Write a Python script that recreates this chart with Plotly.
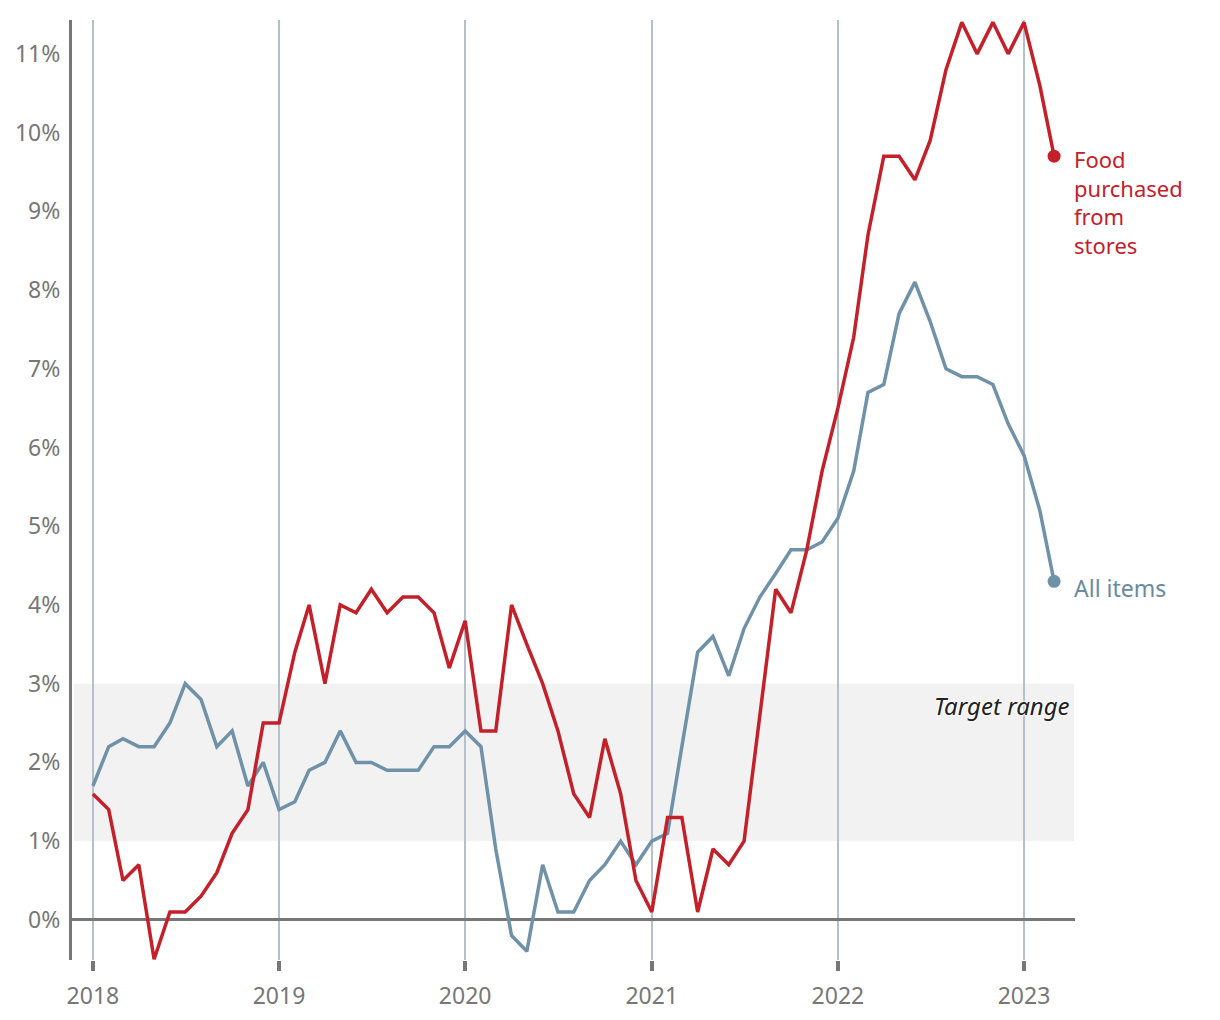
import pandas as pd
import plotly.graph_objects as go

months = pd.date_range("2018-01-01", periods=63, freq="MS")

food_from_stores = [1.6, 1.4, 0.5, 0.7, -0.5, 0.1, 0.1, 0.3, 0.6, 1.1, 1.4, 2.5,
                    2.5, 3.4, 4.0, 3.0, 4.0, 3.9, 4.2, 3.9, 4.1, 4.1, 3.9, 3.2,
                    3.8, 2.4, 2.4, 4.0, 3.5, 3.0, 2.4, 1.6, 1.3, 2.3, 1.6, 0.5,
                    0.1, 1.3, 1.3, 0.1, 0.9, 0.7, 1.0, 2.6, 4.2, 3.9, 4.7, 5.7,
                    6.5, 7.4, 8.7, 9.7, 9.7, 9.4, 9.9, 10.8, 11.4, 11.0, 11.4, 11.0,
                    11.4, 10.6, 9.7]

all_items = [1.7, 2.2, 2.3, 2.2, 2.2, 2.5, 3.0, 2.8, 2.2, 2.4, 1.7, 2.0,
             1.4, 1.5, 1.9, 2.0, 2.4, 2.0, 2.0, 1.9, 1.9, 1.9, 2.2, 2.2,
             2.4, 2.2, 0.9, -0.2, -0.4, 0.7, 0.1, 0.1, 0.5, 0.7, 1.0, 0.7,
             1.0, 1.1, 2.2, 3.4, 3.6, 3.1, 3.7, 4.1, 4.4, 4.7, 4.7, 4.8,
             5.1, 5.7, 6.7, 6.8, 7.7, 8.1, 7.6, 7.0, 6.9, 6.9, 6.8, 6.3,
             5.9, 5.2, 4.3]

year_ticks = ["2018-01-01", "2019-01-01", "2020-01-01", "2021-01-01", "2022-01-01", "2023-01-01"]
year_labels = ["2018", "2019", "2020", "2021", "2022", "2023"]
pct_ticks = list(range(0, 12))
pct_labels = [f"{v}%" for v in pct_ticks]
target_low, target_high = 1, 3
food_label_lines = ["Food", "purchased", "from", "stores"]

RED = "#c4202a"
BLUE = "#7092a8"
GREY = "#777777"
FONT = "Noto Sans"

fig = go.Figure()

fig.add_trace(go.Scatter(x=months, y=all_items, mode="lines",
                         line=dict(color=BLUE, width=3.5), name="All items"))
fig.add_trace(go.Scatter(x=months, y=food_from_stores, mode="lines",
                         line=dict(color=RED, width=3.5), name="Food purchased from stores"))
# end markers
fig.add_trace(go.Scatter(x=[months[-1]], y=[all_items[-1]], mode="markers",
                         marker=dict(color=BLUE, size=13), cliponaxis=False))
fig.add_trace(go.Scatter(x=[months[-1]], y=[food_from_stores[-1]], mode="markers",
                         marker=dict(color=RED, size=13), cliponaxis=False))

fig.add_shape(type="rect", xref="paper", x0=0.002, x1=0.999, yref="y",
              y0=target_low, y1=target_high, fillcolor="#f2f2f2",
              line=dict(width=0), layer="below")

fig.add_annotation(xref="paper", x=0.997, y=2.72, xanchor="right", yanchor="middle",
                   text="<i>Target range</i>", showarrow=False,
                   font=dict(family=FONT, size=24, color="#222222",
                             shadow="0px 0px 3px white, 0px 0px 3px white, 0px 0px 2px white"))

fig.add_annotation(x=months[-1], y=food_from_stores[-1], xanchor="left", yanchor="top",
                   xshift=18, yshift=14, align="left", showarrow=False,
                   text="<br>".join(food_label_lines),
                   font=dict(family=FONT, size=22, color=RED))
fig.add_annotation(x=months[-1], y=all_items[-1], xanchor="left", yanchor="middle",
                   xshift=18, yshift=-7, align="left", showarrow=False,
                   text="All items",
                   font=dict(family=FONT, size=23, color="#6a8aa0"))

fig.update_layout(
    width=1220, height=1020,
    margin=dict(l=72, r=145, t=20, b=60),
    plot_bgcolor="white", paper_bgcolor="white",
    showlegend=False,
    font=dict(family=FONT, color=GREY, size=22),
    xaxis=dict(
        type="date",
        range=["2017-11-21", "2023-04-11"],
        tickvals=year_ticks, ticktext=year_labels,
        showgrid=True, gridcolor="#b4c1ca", gridwidth=1.5,
        ticks="outside", ticklen=10, tickwidth=4, tickcolor=GREY,
        showline=False, zeroline=False, automargin=False,
        tickfont=dict(family=FONT, size=23, color=GREY),
        ticklabelstandoff=5,
    ),
    yaxis=dict(
        range=[-0.51, 11.43],
        tickvals=pct_ticks, ticktext=pct_labels,
        showgrid=False, automargin=False,
        zeroline=True, zerolinecolor=GREY, zerolinewidth=3,
        showline=True, linecolor=GREY, linewidth=3,
        ticks="", tickfont=dict(family=FONT, size=23, color=GREY),
        ticklabelstandoff=4,
    ),
)

fig.write_html("out.html", config={"displayModeBar": False},
               post_script="document.body.style.margin='0';")
